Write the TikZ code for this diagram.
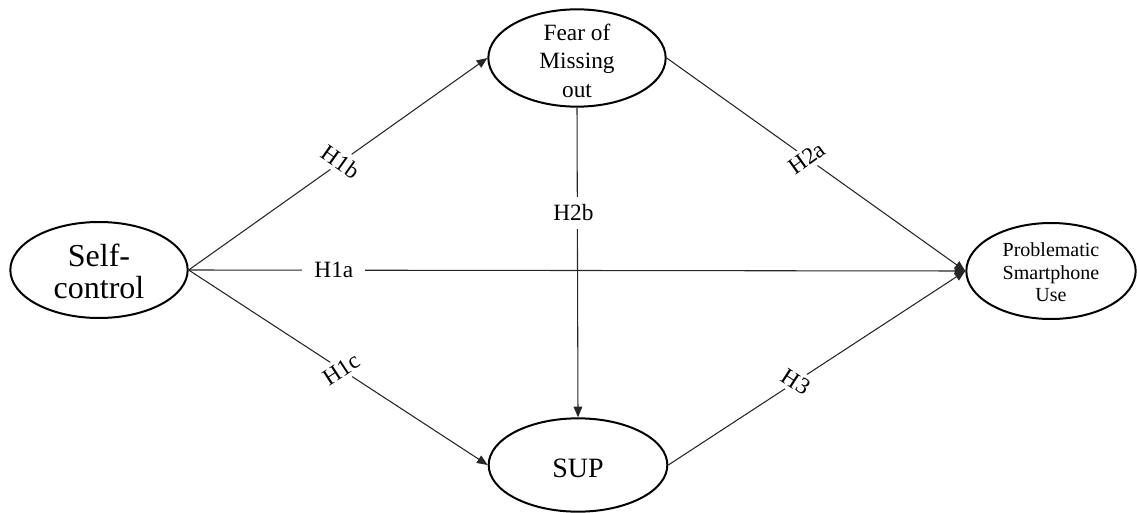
\documentclass[tikz,border=0pt]{standalone}
\usepackage{fontspec}
\setmainfont{Liberation Serif}
\usetikzlibrary{shapes.geometric,arrows.meta}

\tikzset{every picture/.style={line width=0.75pt}}
\tikzset{
  construct/.style={ellipse, draw, line width=1.5pt, inner sep=0pt},
  path arrow/.style={draw=black!85, line width=0.8pt, -{Triangle[length=8pt,width=6.5pt]}},
  hyp/.style={fill=white, inner xsep=9pt, inner ysep=3pt, font=\fontsize{17.5}{19}\selectfont}
}

\begin{document}
\begin{tikzpicture}[x=0.75pt,y=0.75pt,yscale=-1,xscale=1]
\useasboundingbox (0,0) rectangle (1137,513);
%Shape: Ellipse
\node [construct, minimum width=133pt, minimum height=72pt, label={[align=center, font=\fontsize{24}{24}\selectfont, yshift=-1pt]center:Self-\\control}] (self) at (99,270) {};
%Shape: Ellipse
\node [construct, minimum width=133pt, minimum height=73pt, label={[align=center, font=\fontsize{17.5}{21.5}\selectfont, yshift=-2pt]center:Fear of\\Missing\\out}] (fomo) at (577,58) {};
%Shape: Ellipse
\node [construct, minimum width=134pt, minimum height=70pt, label={[font=\fontsize{21}{23}\selectfont, yshift=-2.5pt]center:SUP}] (sup) at (578,465) {};
%Shape: Ellipse
\node [construct, minimum width=127pt, minimum height=72pt, label={[align=center, font=\fontsize{15}{17}\selectfont, yshift=-1pt]center:Problematic\\Smartphone\\Use}] (psu) at (1051,271) {};

%Straight Lines
\draw [path arrow] (self.east) -- node [hyp, sloped, pos=0.51] {H1b} (fomo.west) ;
%Straight Lines
\draw [path arrow] (self.east) -- node [hyp, pos=0.187] {H1a} (psu.west) ;
%Straight Lines
\draw [path arrow] (self.east) -- node [hyp, sloped, pos=0.51] {H1c} (sup.west) ;
%Straight Lines
\draw [path arrow] (fomo.south) -- node [hyp, pos=0.34, inner xsep=3pt, inner ysep=6pt, xshift=-3pt] {H2b} (sup.north) ;
%Straight Lines
\draw [path arrow] (fomo.east) -- node [hyp, sloped, pos=0.47] {H2a} (psu.west) ;
%Straight Lines
\draw [path arrow] (sup.east) -- node [hyp, sloped, pos=0.43] {H3} (psu.west) ;
\end{tikzpicture}
\end{document}
